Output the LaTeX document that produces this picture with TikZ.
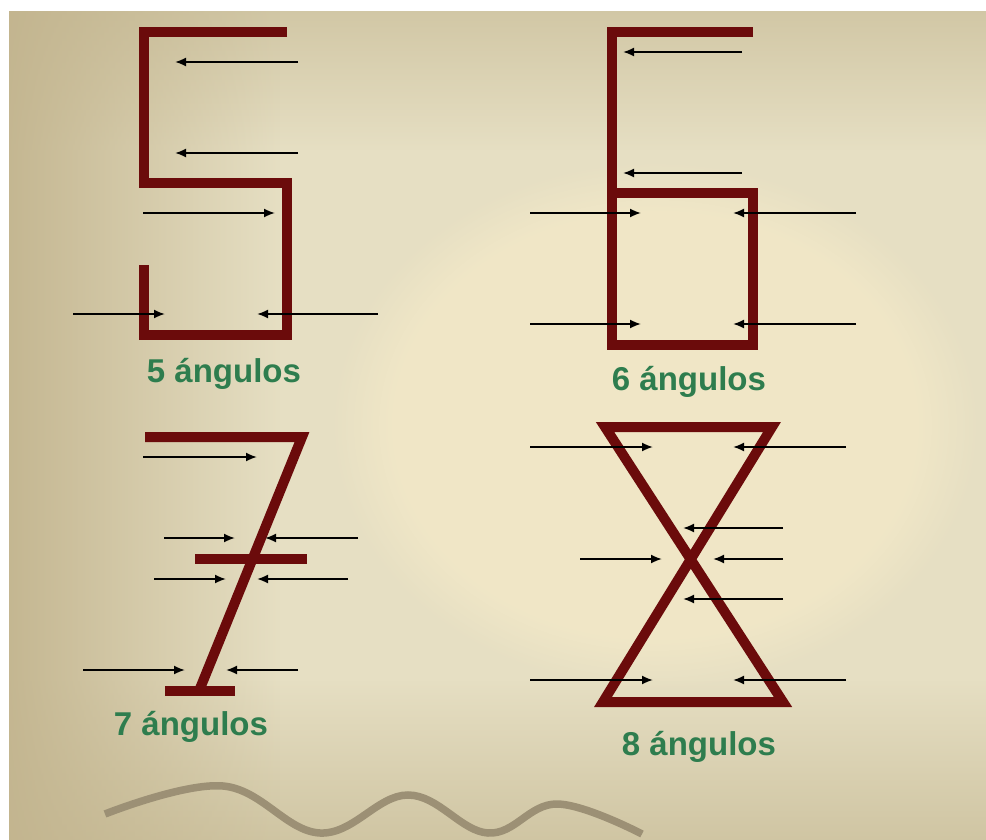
\documentclass[tikz,border=0pt]{standalone}
\usepackage{fontspec}
\setmainfont{Liberation Sans}
\usetikzlibrary{arrows.meta,fadings}

\definecolor{trazo}{HTML}{6B0B0B}
\definecolor{verde}{HTML}{2E7D4E}
\definecolor{fondo}{HTML}{E6DFC3}
\definecolor{fondoosc}{HTML}{C2B48E}
\definecolor{fondoborde}{HTML}{CDC29F}
\definecolor{brillo}{HTML}{F6EBC9}
\definecolor{onda}{HTML}{9C9075}

\tikzfading[name=haciaabajo, top color=transparent!0, bottom color=transparent!100]
\tikzfading[name=haciaarriba, top color=transparent!100, bottom color=transparent!0]
\tikzfading[name=haciaderecha, left color=transparent!0, right color=transparent!100]

\tikzset{
  digito/.style={draw=trazo, line width=10pt, line join=miter},
  flecha/.style={-{Latex[length=11pt,width=9pt]}, line width=1.8pt},
  etiqueta/.style={text=verde, font=\fontsize{33}{40}\selectfont\bfseries, anchor=base, inner sep=0pt}
}

\begin{document}
\begin{tikzpicture}[x=1pt, y=-1pt]
\useasboundingbox (0,0) rectangle (986,840);

% fondo
\begin{scope}
\clip (9,12) rectangle (1010,860);
\fill[fondo] (0,0) rectangle (1010,860);
\fill[brillo, path fading=circle with fuzzy edge 20 percent, opacity=0.65] (330,160) rectangle (980,690);
\fill[fondoborde, path fading=haciaabajo] (-20,-20) rectangle (1010,150);
\fill[fondoborde, path fading=haciaarriba] (-20,680) rectangle (1010,860);
\fill[fondoosc, path fading=haciaderecha] (-10,-20) rectangle (280,860);
\end{scope}

% onda
\draw[onda, line width=7.5pt] plot[smooth, tension=0.65] coordinates
  {(105,814) (223,786) (320,833) (408,795) (488,833) (557,804) (642,834)};

% 5
\draw[digito] (287,32) -- (144,32) -- (144,183) -- (287,183) -- (287,335) -- (144,335) -- (144,265);
\draw[flecha] (298,62) -- (175,62);
\draw[flecha] (298,153) -- (175,153);
\draw[flecha] (143,213) -- (275,213);
\draw[flecha] (73,314) -- (165,314);
\draw[flecha] (378,314) -- (257,314);
\node (cinco) [etiqueta] at (224,382) {5 ángulos};

% 6
\draw[digito] (753,32) -- (612,32) -- (612,345) -- (753,345) -- (753,193) -- (612,193);
\draw[flecha] (742,52) -- (623,52);
\draw[flecha] (742,173) -- (623,173);
\draw[flecha] (530,213) -- (641,213);
\draw[flecha] (856,213) -- (733,213);
\draw[flecha] (530,324) -- (641,324);
\draw[flecha] (856,324) -- (733,324);
\node (seis) [etiqueta] at (689,390) {6 ángulos};

% 7
\draw[digito] (145,437) -- (302,437) -- (199,691);
\draw[digito] (195,559) -- (307,559);
\draw[digito] (165,691) -- (235,691);
\draw[flecha] (143,457) -- (257,457);
\draw[flecha] (164,538) -- (235,538);
\draw[flecha] (358,538) -- (265,538);
\draw[flecha] (154,579) -- (226,579);
\draw[flecha] (348,579) -- (257,579);
\draw[flecha] (83,670) -- (185,670);
\draw[flecha] (298,670) -- (226,670);
\node (siete) [etiqueta] at (191,735) {7 ángulos};

% 8
\draw[digito] (605,427) -- (772,427) -- (603,702) -- (783,702) -- cycle;
\draw[flecha] (530,447) -- (653,447);
\draw[flecha] (846,447) -- (733,447);
\draw[flecha] (783,528) -- (683,528);
\draw[flecha] (580,559) -- (662,559);
\draw[flecha] (783,559) -- (713,559);
\draw[flecha] (783,599) -- (683,599);
\draw[flecha] (530,680) -- (653,680);
\draw[flecha] (846,680) -- (733,680);
\node (ocho) [etiqueta] at (699,755) {8 ángulos};
\end{tikzpicture}
\end{document}
